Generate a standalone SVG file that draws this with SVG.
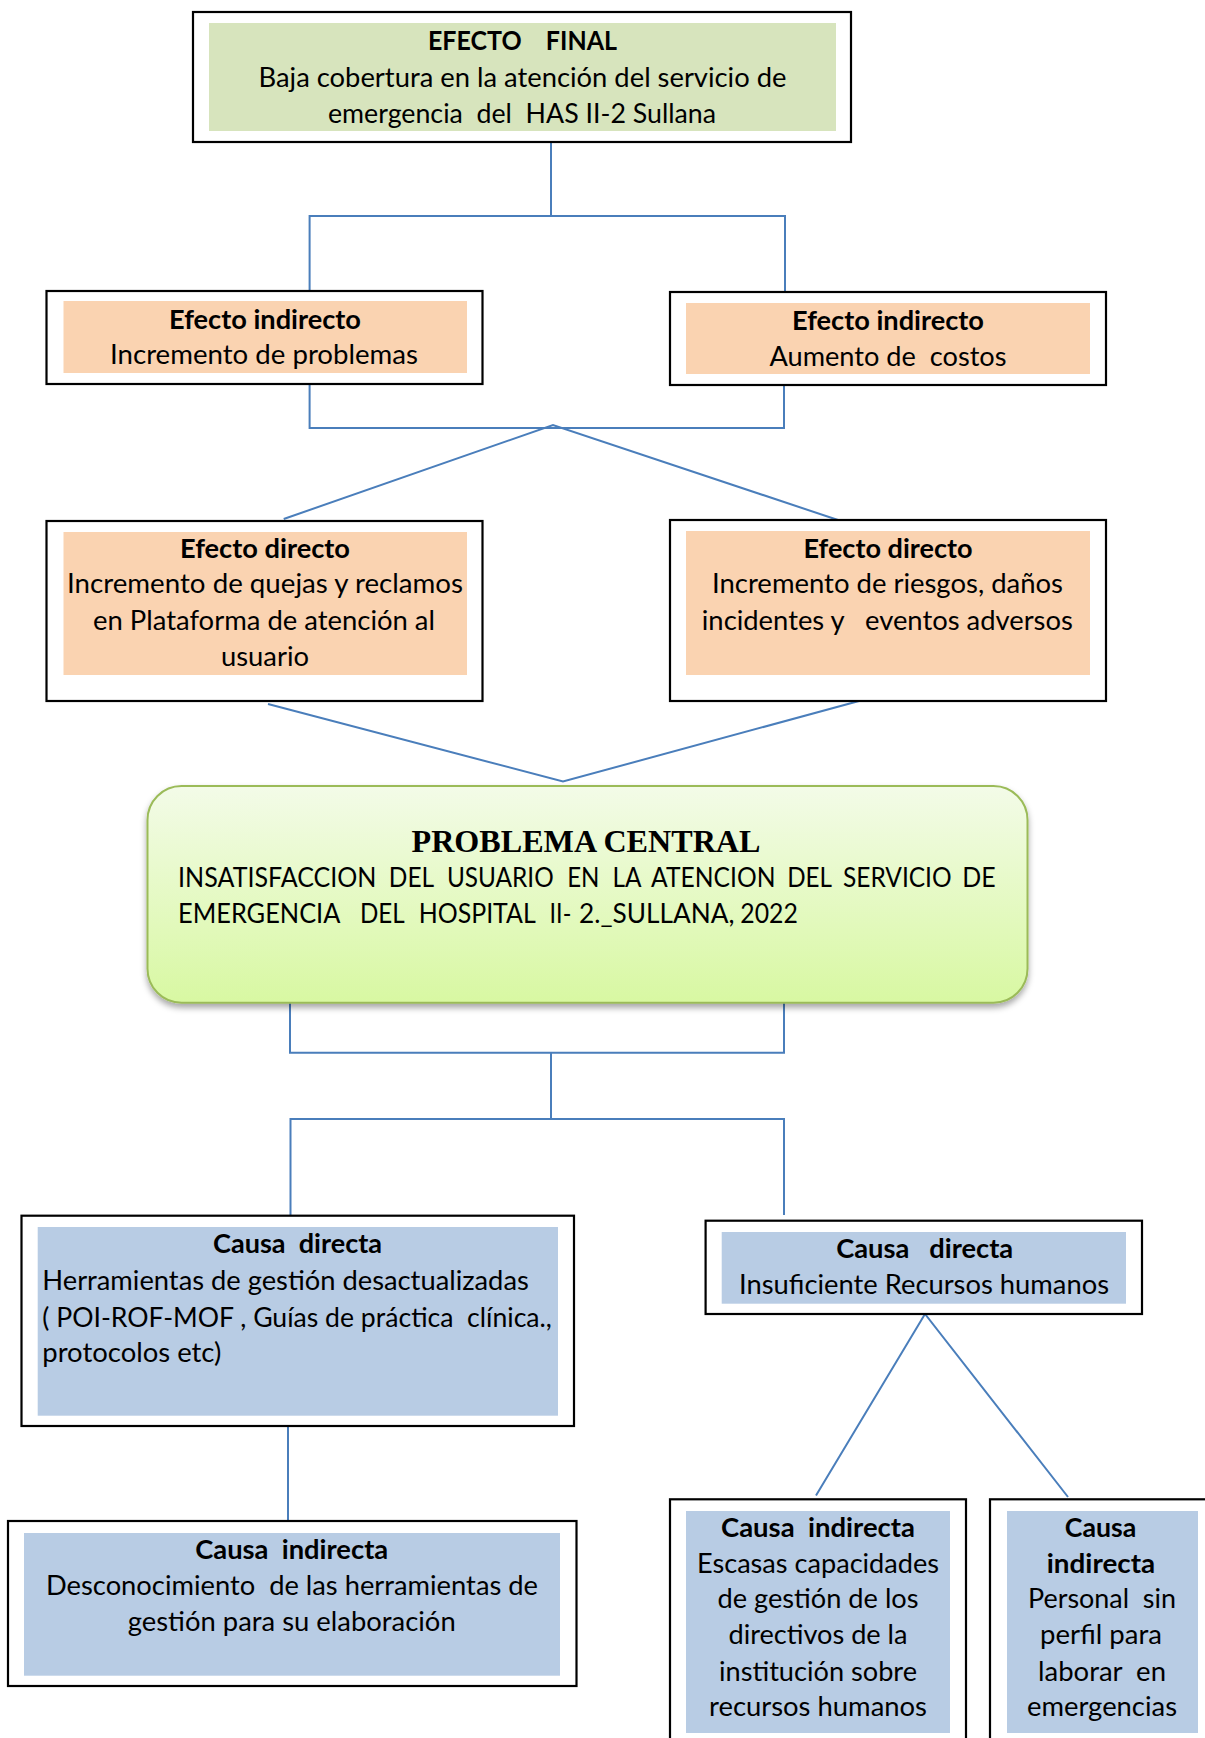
<svg xmlns="http://www.w3.org/2000/svg" width="1205" height="1738" viewBox="0 0 1205 1738">
<defs>
<linearGradient id="gc" x1="0" y1="0" x2="0" y2="1">
<stop offset="0" stop-color="#F3FBE8"/>
<stop offset="1" stop-color="#D8F8A2"/>
</linearGradient>
<filter id="sh" x="-5%" y="-10%" width="110%" height="125%">
<feDropShadow dx="0" dy="4" stdDeviation="3" flood-color="#000" flood-opacity="0.35"/>
</filter>
<style>
.box{fill:#fff;stroke:#000;stroke-width:2.2}
.g{fill:#D7E4BD}
.p{fill:#FAD3B1}
.b{fill:#B8CCE4}
.t{font-family:Lato,"Liberation Sans",sans-serif;font-size:27px;fill:#000}
.bd{font-weight:bold}
.c{text-anchor:middle}
.con{fill:none;stroke:#4A7EBB;stroke-width:2}
</style>
</defs>
<g id="connectors">
<path class="con" d="M551 142 V216 M309.6 291 V216 H785 V292"/>
<path class="con" d="M309.6 384 V428 H784 V385"/>
<path class="con" d="M283.7 519 L553 425 L844 522"/>
<path class="con" d="M268 704 L563 781.5 L859 701"/>
<path class="con" d="M290 1003 V1052.7 H784 V1003 M551 1052.7 V1119 M290.5 1216 V1119 H784 V1215"/>
<path class="con" d="M288 1426 V1521"/>
<path class="con" d="M816 1495.5 L925 1314 L1068 1497"/>
</g>
<g id="efecto-final">
<rect class="box" x="193" y="12" width="658" height="130"/>
<rect class="g" x="209" y="23" width="627" height="108"/>
<text class="t bd c" x="522.5" y="50" xml:space="preserve" textLength="189" lengthAdjust="spacingAndGlyphs">EFECTO    FINAL</text>
<text class="t c" x="522.5" y="87" textLength="528" lengthAdjust="spacingAndGlyphs">Baja cobertura en la atención del servicio de</text>
<text class="t c" x="522" y="123" xml:space="preserve" textLength="388" lengthAdjust="spacingAndGlyphs">emergencia  del  HAS II-2 Sullana</text>
</g>
<g id="efecto-indirecto-1">
<rect class="box" x="46.5" y="291" width="436" height="93"/>
<rect class="p" x="63.5" y="301" width="403.5" height="72"/>
<text class="t bd c" x="265" y="328.5" textLength="192" lengthAdjust="spacingAndGlyphs">Efecto indirecto</text>
<text class="t c" x="264" y="364" textLength="308" lengthAdjust="spacingAndGlyphs">Incremento de problemas</text>
</g>
<g id="efecto-indirecto-2">
<rect class="box" x="670" y="292" width="436" height="93"/>
<rect class="p" x="686" y="303" width="404" height="71"/>
<text class="t bd c" x="888" y="330" textLength="192" lengthAdjust="spacingAndGlyphs">Efecto indirecto</text>
<text class="t c" x="888" y="366" xml:space="preserve" textLength="237" lengthAdjust="spacingAndGlyphs">Aumento de  costos</text>
</g>
<g id="efecto-directo-1">
<rect class="box" x="46.5" y="521" width="436" height="180"/>
<rect class="p" x="63.5" y="532" width="403.5" height="143"/>
<text class="t bd c" x="265" y="558.3" textLength="170" lengthAdjust="spacingAndGlyphs">Efecto directo</text>
<text class="t c" x="265" y="593.3" textLength="396" lengthAdjust="spacingAndGlyphs">Incremento de quejas y reclamos</text>
<text class="t c" x="264" y="630" textLength="342" lengthAdjust="spacingAndGlyphs">en Plataforma de atención al</text>
<text class="t c" x="265" y="666" textLength="88" lengthAdjust="spacingAndGlyphs">usuario</text>
</g>
<g id="efecto-directo-2">
<rect class="box" x="670" y="520" width="436" height="181"/>
<rect class="p" x="686" y="531" width="404" height="144"/>
<text class="t bd c" x="888" y="558.3" textLength="169" lengthAdjust="spacingAndGlyphs">Efecto directo</text>
<text class="t c" x="887.5" y="593.3" textLength="351" lengthAdjust="spacingAndGlyphs">Incremento de riesgos, daños</text>
<text class="t c" x="887.3" y="630" xml:space="preserve" textLength="371" lengthAdjust="spacingAndGlyphs">incidentes y   eventos adversos</text>
</g>
<g id="problema-central">
<rect x="147.5" y="786" width="880" height="216.7" rx="34" ry="34" fill="url(#gc)" stroke="#9BBB59" stroke-width="2" filter="url(#sh)"/>
<text x="586" y="852" text-anchor="middle" font-family="'Liberation Serif','Times New Roman',serif" font-weight="bold" font-size="32" textLength="349" lengthAdjust="spacingAndGlyphs">PROBLEMA CENTRAL</text>
<text class="t" y="886.7"><tspan x="178.1" textLength="198.4" lengthAdjust="spacingAndGlyphs">INSATISFACCION</tspan> <tspan x="388.8" textLength="44.6" lengthAdjust="spacingAndGlyphs">DEL</tspan> <tspan x="446.9" textLength="106.8" lengthAdjust="spacingAndGlyphs">USUARIO</tspan> <tspan x="567.2" textLength="32.3" lengthAdjust="spacingAndGlyphs">EN</tspan> <tspan x="612.4" textLength="28.2" lengthAdjust="spacingAndGlyphs">LA</tspan> <tspan x="651.1" textLength="124.4" lengthAdjust="spacingAndGlyphs">ATENCION</tspan> <tspan x="787.2" textLength="44.1" lengthAdjust="spacingAndGlyphs">DEL</tspan> <tspan x="843" textLength="108.6" lengthAdjust="spacingAndGlyphs">SERVICIO</tspan> <tspan x="962.2" textLength="33.4" lengthAdjust="spacingAndGlyphs">DE</tspan></text>
<text class="t" y="922.7"><tspan x="178.1" textLength="161.4" lengthAdjust="spacingAndGlyphs">EMERGENCIA</tspan>  <tspan x="360" textLength="44" lengthAdjust="spacingAndGlyphs">DEL</tspan>  <tspan x="418.7" textLength="116.3" lengthAdjust="spacingAndGlyphs">HOSPITAL</tspan>  <tspan x="549.6" textLength="21.7" lengthAdjust="spacingAndGlyphs">II-</tspan> <tspan x="579" textLength="155.4" lengthAdjust="spacingAndGlyphs">2._SULLANA,</tspan> <tspan x="740.3" textLength="57.5" lengthAdjust="spacingAndGlyphs">2022</tspan></text>
</g>
<g id="causa-directa-1">
<rect class="box" x="21.5" y="1215.7" width="552.5" height="210.3"/>
<rect class="b" x="37.7" y="1227" width="520.3" height="188.7"/>
<text class="t bd c" x="297.5" y="1253.3" xml:space="preserve" textLength="169" lengthAdjust="spacingAndGlyphs">Causa  directa</text>
<text class="t" x="42.3" y="1290" textLength="486.5" lengthAdjust="spacingAndGlyphs">Herramientas de gestión desactualizadas</text>
<text class="t" x="42.3" y="1326.7" xml:space="preserve" textLength="509.6" lengthAdjust="spacingAndGlyphs">( POI-ROF-MOF , Guías de práctica  clínica.,</text>
<text class="t" x="42.3" y="1361.7" textLength="179" lengthAdjust="spacingAndGlyphs">protocolos etc)</text>
</g>
<g id="causa-directa-2">
<rect class="box" x="705.6" y="1220.7" width="436.4" height="93.3"/>
<rect class="b" x="721.7" y="1232" width="404.3" height="71.7"/>
<text class="t bd c" x="924.7" y="1258" xml:space="preserve" textLength="177" lengthAdjust="spacingAndGlyphs">Causa   directa</text>
<text class="t c" x="924" y="1294" textLength="370" lengthAdjust="spacingAndGlyphs">Insuficiente Recursos humanos</text>
</g>
<g id="causa-indirecta-1">
<rect class="box" x="8" y="1521" width="568.5" height="165"/>
<rect class="b" x="24" y="1533" width="536" height="142.7"/>
<text class="t bd c" x="291.7" y="1559" xml:space="preserve" textLength="193" lengthAdjust="spacingAndGlyphs">Causa  indirecta</text>
<text class="t c" x="292" y="1595" xml:space="preserve" textLength="492" lengthAdjust="spacingAndGlyphs">Desconocimiento  de las herramientas de</text>
<text class="t c" x="291.7" y="1631" textLength="328" lengthAdjust="spacingAndGlyphs">gestión para su elaboración</text>
</g>
<g id="causa-indirecta-2">
<rect class="box" x="670" y="1499.3" width="296" height="260"/>
<rect class="b" x="686" y="1511" width="264" height="222"/>
<text class="t bd c" x="818" y="1536.7" xml:space="preserve" textLength="194" lengthAdjust="spacingAndGlyphs">Causa  indirecta</text>
<text class="t c" x="818" y="1573" textLength="242" lengthAdjust="spacingAndGlyphs">Escasas capacidades</text>
<text class="t c" x="818" y="1608" textLength="201" lengthAdjust="spacingAndGlyphs">de gestión de los</text>
<text class="t c" x="818" y="1644" textLength="179" lengthAdjust="spacingAndGlyphs">directivos de la</text>
<text class="t c" x="818" y="1680.7" textLength="198" lengthAdjust="spacingAndGlyphs">institución sobre</text>
<text class="t c" x="818" y="1716" textLength="218" lengthAdjust="spacingAndGlyphs">recursos humanos</text>
</g>
<g id="causa-indirecta-3">
<rect class="box" x="990" y="1499.3" width="230" height="260"/>
<rect class="b" x="1007" y="1511" width="191" height="222"/>
<text class="t bd c" x="1100.5" y="1536.7" textLength="71.5" lengthAdjust="spacingAndGlyphs">Causa</text>
<text class="t bd c" x="1101" y="1573" textLength="108.4" lengthAdjust="spacingAndGlyphs">indirecta</text>
<text class="t c" x="1102" y="1608" xml:space="preserve" textLength="148" lengthAdjust="spacingAndGlyphs">Personal  sin</text>
<text class="t c" x="1101" y="1644" textLength="122" lengthAdjust="spacingAndGlyphs">perfil para</text>
<text class="t c" x="1102" y="1680.7" xml:space="preserve" textLength="128" lengthAdjust="spacingAndGlyphs">laborar  en</text>
<text class="t c" x="1102" y="1716" textLength="150" lengthAdjust="spacingAndGlyphs">emergencias</text>
</g>
</svg>
